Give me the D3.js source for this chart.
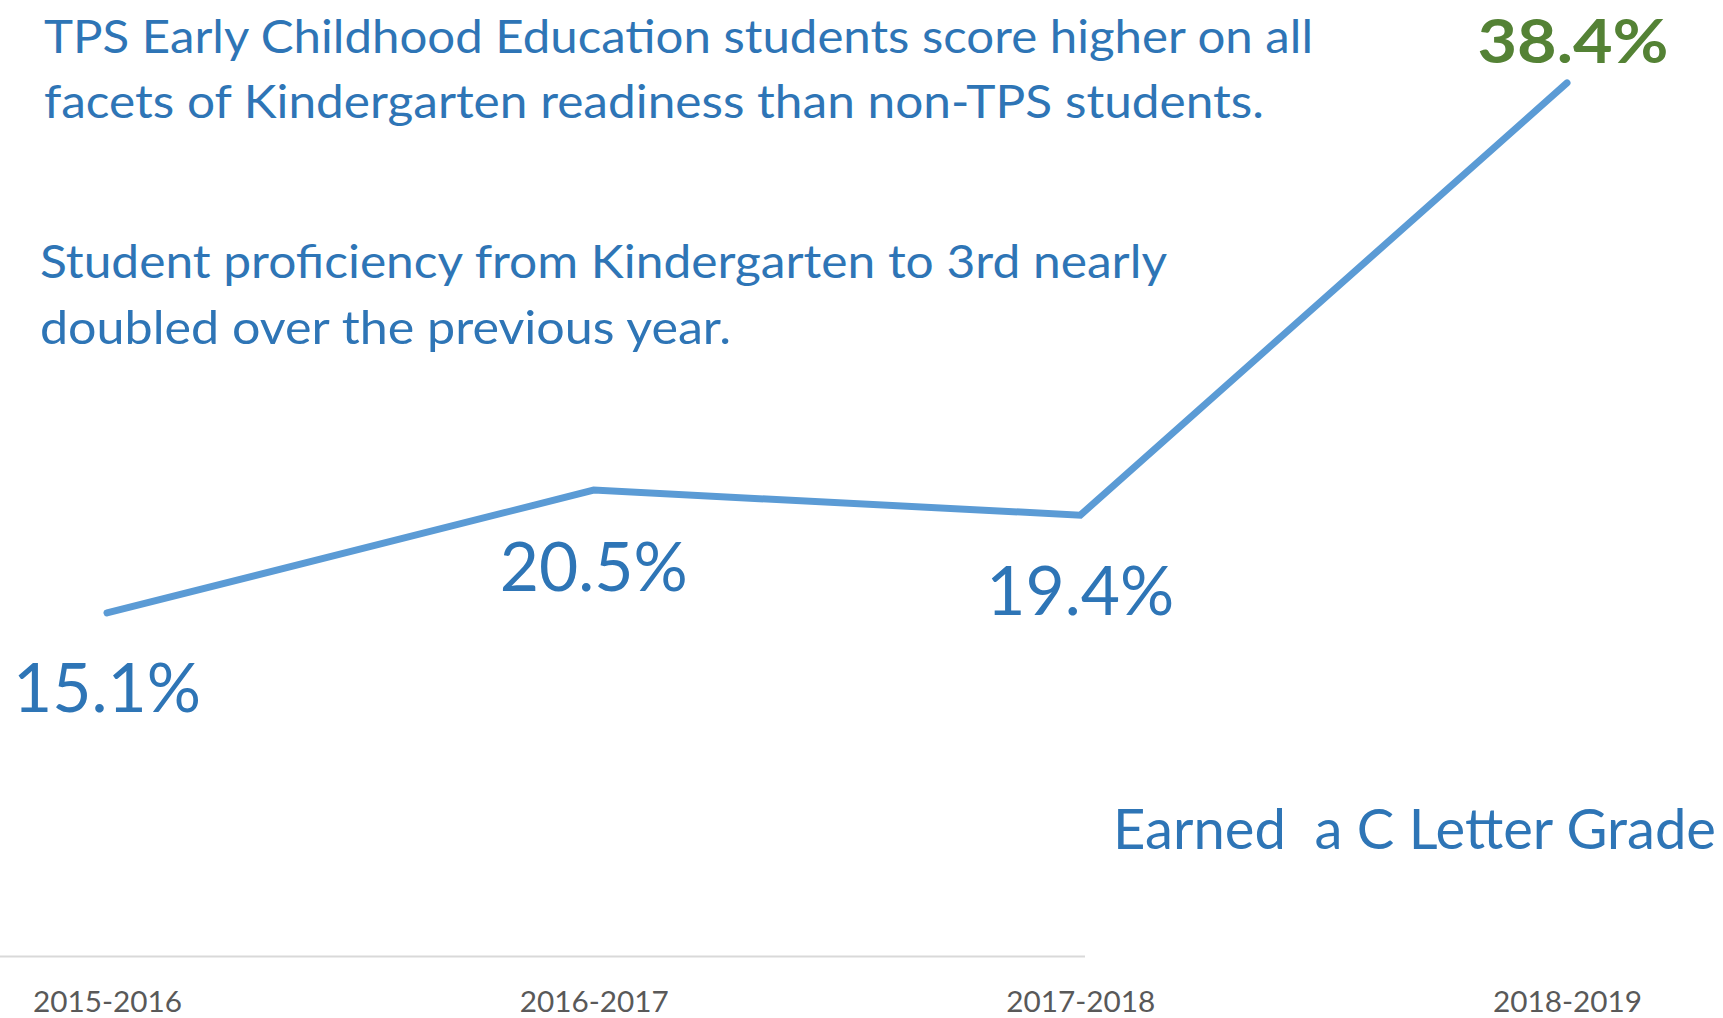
<!DOCTYPE html>
<html>
<head>
<meta charset="utf-8">
<script src="https://cdn.jsdelivr.net/npm/d3@7"></script>
<style>
  html, body { margin: 0; padding: 0; background: #ffffff; }
  svg { display: block; }
  text { font-family: Lato, "Open Sans", sans-serif; }
</style>
</head>
<body>
<svg id="chart" width="1723" height="1018"></svg>
<script>
// ---- data ----
const categories = ["2015-2016", "2016-2017", "2017-2018", "2018-2019"];
const values = [15.1, 20.5, 19.4, 38.4];
const valueLabels = ["15.1%", "20.5%", "19.4%", "38.4%"];
const titleLines = [
  "TPS Early Childhood Education students score higher on all",
  "facets of Kindergarten readiness than non-TPS students."
];
const subtitleLines = [
  "Student proficiency from Kindergarten to 3rd nearly",
  "doubled over the previous year."
];
const noteText = "Earned  a C Letter Grade";

// ---- layout ----
const svg = d3.select("#chart");
const blue = "#2E75B6", lineBlue = "#5B9BD5", green = "#548235", gray = "#595959";

const x = d3.scalePoint().domain(categories).range([107, 1567]);
const y = d3.scaleLinear().domain([0, 40]).range([956.5, 46.5]);

function fitText(sel, width) {
  sel.attr("textLength", width).attr("lengthAdjust", "spacingAndGlyphs");
}

// axis line (only partially visible in the reference)
svg.append("line")
  .attr("x1", 0).attr("x2", 1085)
  .attr("y1", y(0)).attr("y2", y(0))
  .attr("stroke", "#d9d9d9").attr("stroke-width", 2);

// category labels via d3 axis
const axisG = svg.append("g").attr("transform", `translate(0,${y(0)})`)
  .call(d3.axisBottom(x).tickSize(0).tickPadding(0));
axisG.select(".domain").remove();
axisG.selectAll("text")
  .attr("y", 55).attr("dy", null)
  .attr("fill", gray)
  .style("font-size", "28px")
  .style("font-family", "Lato, sans-serif")
  .each(function() { fitText(d3.select(this), 149); });

// line
const data = categories.map((c, i) => ({c, v: values[i], label: valueLabels[i]}));
svg.append("path")
  .datum(data)
  .attr("fill", "none")
  .attr("stroke", lineBlue)
  .attr("stroke-width", 7)
  .attr("stroke-linecap", "round")
  .attr("stroke-linejoin", "miter")
  .attr("d", d3.line().x(d => x(d.c)).y(d => y(d.v)));

// value labels
const labelOffsets = [99, 101, 100, -20]; // baseline offset from point
svg.selectAll("text.val").data(data).enter().append("text")
  .attr("class", "val")
  .attr("x", (d, i) => x(d.c) + (i === 3 ? 6 : 0))
  .attr("y", (d, i) => y(d.v) + labelOffsets[i])
  .attr("text-anchor", "middle")
  .attr("fill", (d, i) => i === 3 ? green : blue)
  .style("font-size", (d, i) => i === 3 ? "62px" : "68px")
  .style("font-weight", (d, i) => i === 3 ? 700 : 400)
  .text(d => d.label)
  .each(function(d, i) { fitText(d3.select(this), i === 3 ? 191 : 188); });

// title
const titleWidths = [1269, 1220];
titleLines.forEach((t, i) => {
  svg.append("text")
    .attr("x", 44).attr("y", 53 + i * 65)
    .attr("fill", blue)
    .style("font-size", "46px")
    .text(t)
    .call(s => fitText(s, titleWidths[i]));
});

// subtitle
const subWidths = [1127, 691];
subtitleLines.forEach((t, i) => {
  svg.append("text")
    .attr("x", 40).attr("y", 278 + i * 66)
    .attr("fill", blue)
    .style("font-size", "46px")
    .text(t)
    .call(s => fitText(s, subWidths[i]));
});

// note
svg.append("text")
  .attr("x", 1113).attr("y", 849)
  .attr("fill", blue)
  .style("font-size", "56px")
  .style("white-space", "pre")
  .attr("xml:space", "preserve")
  .text(noteText)
  .call(s => fitText(s, 603));
</script>
</body>
</html>
